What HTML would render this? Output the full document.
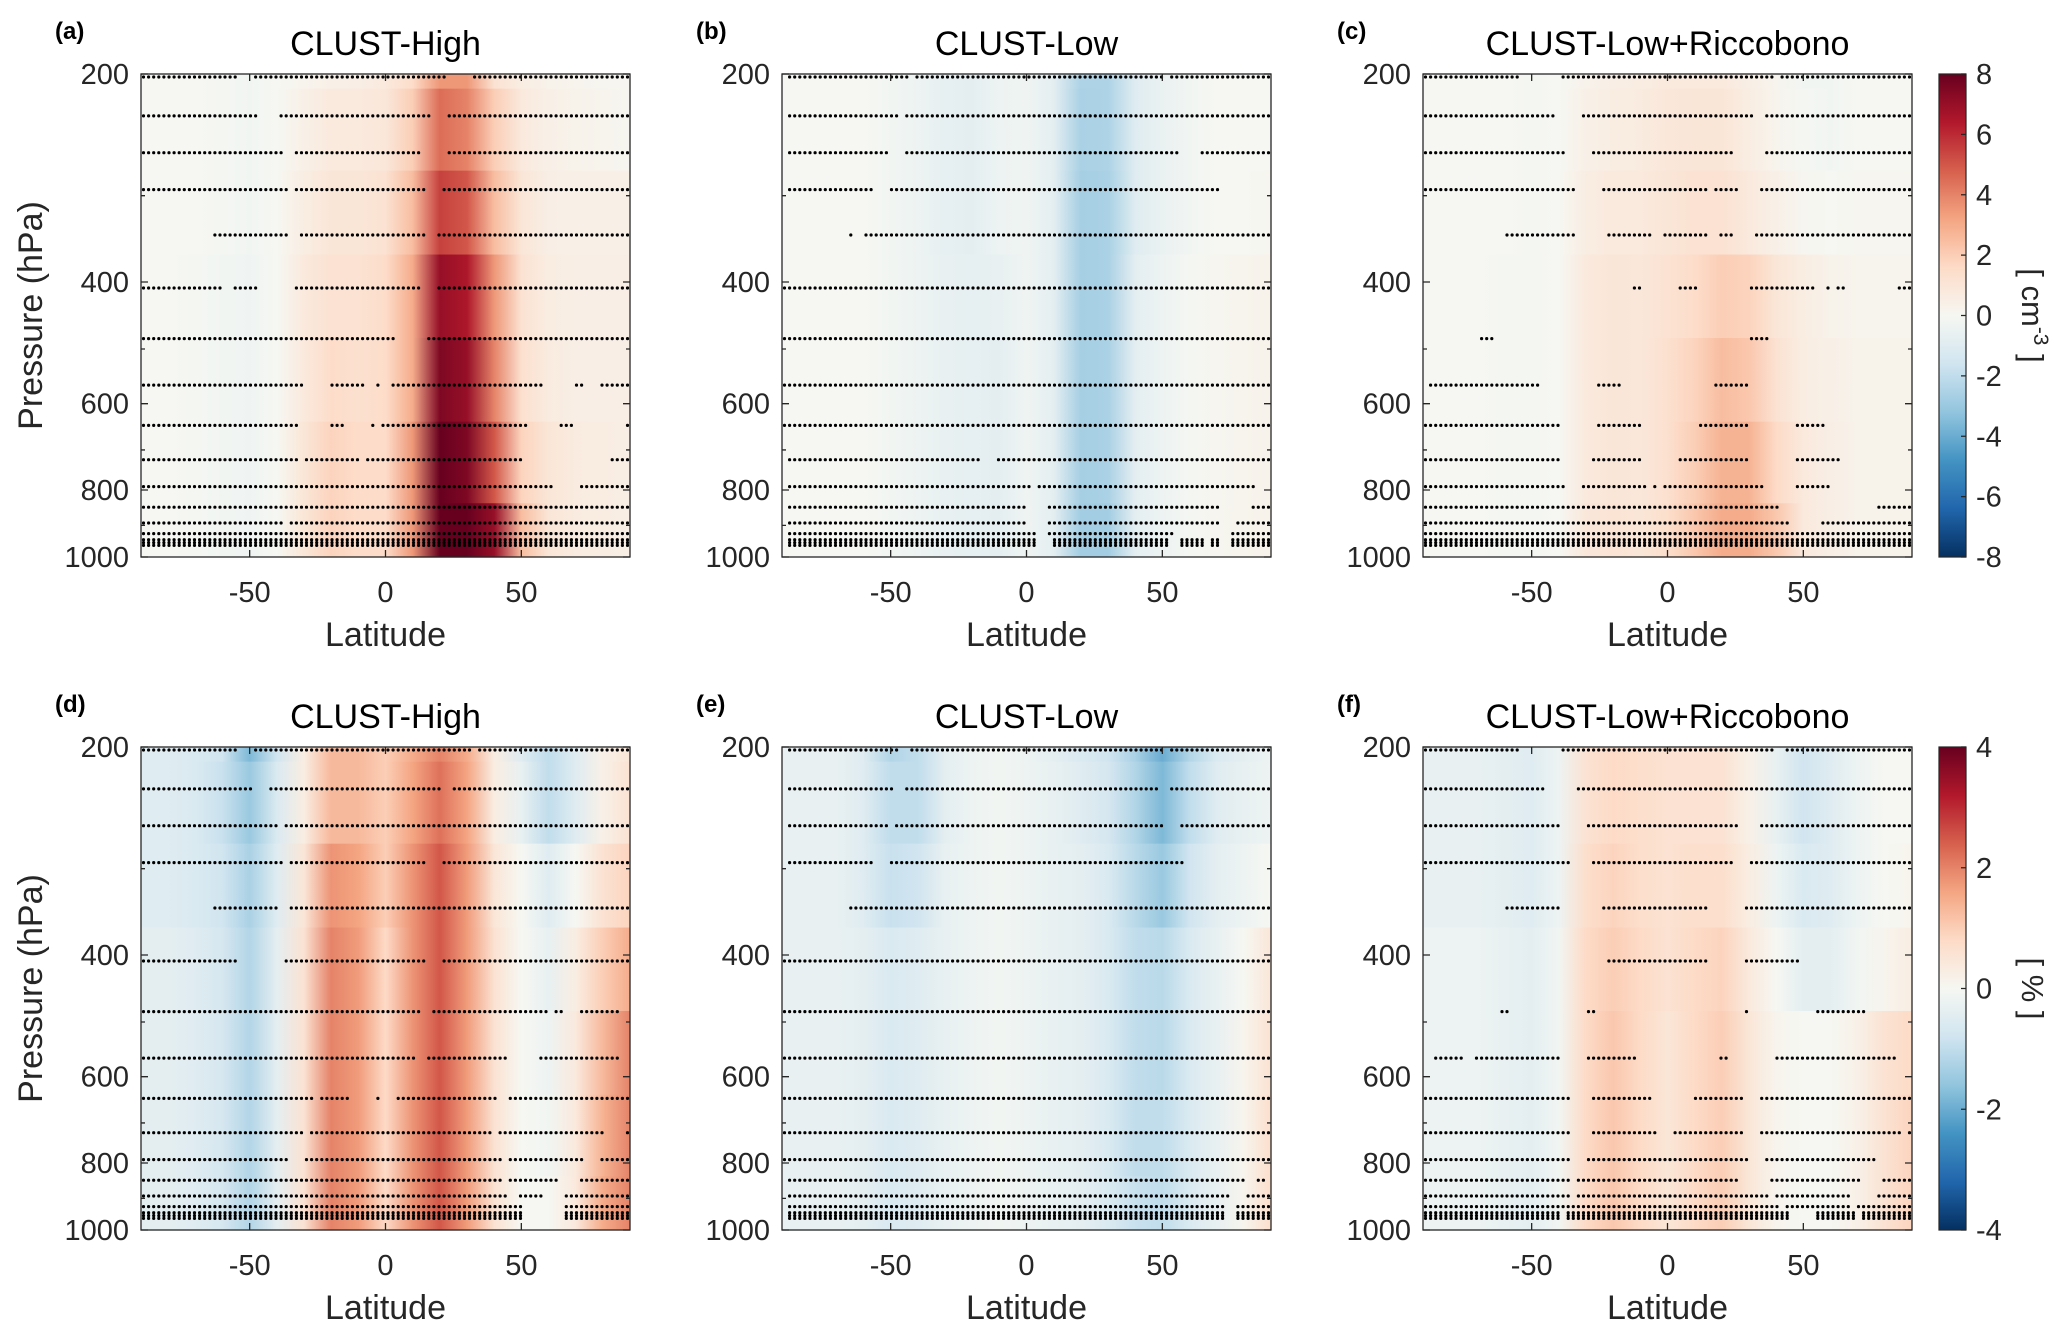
<!DOCTYPE html>
<html><head><meta charset="utf-8"><style>
html,body{margin:0;padding:0;background:#fff;}
svg{display:block;font-family:"Liberation Sans",Arial,sans-serif;}
</style></head><body>
<svg id="fig" width="2067" height="1334" viewBox="0 0 2067 1334" xmlns="http://www.w3.org/2000/svg"></svg>
<script>
// ---------- data ----------
const LATS=[-90,-80,-70,-60,-50,-40,-30,-20,-10,0,10,20,30,40,50,60,70,80,90];
const BANDS=[200,210,276,365,482,637,836,1000];
const LEVELS=[202,230,260,294,342,408,483,564,645,723,791,847,893,925,944,953,962];
const YTICKS=[200,400,600,800,1000];
const YMINOR=[300,500,700,900];
const XTICKS=[-50,0,50];
const CB_TICKS_TOP=[-8,-6,-4,-2,0,2,4,6,8];
const CB_TICKS_BOT=[-4,-2,0,2,4];
const TITLES=["CLUST-High","CLUST-Low","CLUST-Low+Riccobono","CLUST-High","CLUST-Low","CLUST-Low+Riccobono"];
const LETTERS=["(a)","(b)","(c)","(d)","(e)","(f)"];

const valA=[
[0,0,0,-0.1,-0.2,0,0.2,0.4,0.5,0.8,1.5,3.5,3.5,1.2,0.6,0.3,0.2,0.1,0.1],
[0,0,0,-0.1,-0.2,0,0.4,0.8,0.8,0.9,2,4.5,4,2,0.8,0.4,0.3,0.2,0.1],
[0,0,0,-0.1,-0.2,0,0.6,1,1,1.2,2.5,5.5,5,2.5,1,0.5,0.4,0.4,0.4],
[0,0,-0.1,-0.2,-0.3,0,0.8,1.2,1.2,1.5,3,7,6.5,3.5,1.2,0.6,0.5,0.5,0.5],
[0,0,-0.1,-0.2,-0.3,0,0.8,1.5,1.3,1.5,3,7.5,7,4,1.3,0.7,0.5,0.5,0.5],
[0,0,-0.1,-0.2,-0.3,0,1,1.8,1.5,1.5,3.5,8,7.5,5,1.8,1,0.7,0.6,0.5],
[0,0,-0.1,-0.2,-0.3,0,1,1.8,1.5,1.5,3.5,8,8,7,2.5,1,0.7,0.6,0.5]];
const valB=[
[0,0,0,0,-0.2,-0.4,-0.7,-0.8,-0.4,-0.3,-0.8,-2.5,-2.5,-1,-0.5,-0.2,0,0,0],
[0,0,0,0,-0.2,-0.4,-0.7,-0.8,-0.4,-0.3,-0.8,-2.6,-2.5,-1,-0.5,-0.2,0,0,0],
[0,0,0,0,-0.2,-0.4,-0.7,-0.8,-0.4,-0.3,-0.8,-2.7,-2.6,-1,-0.5,-0.2,0,0,0.1],
[0,0,0,0,-0.2,-0.4,-0.6,-0.7,-0.6,-0.3,-0.8,-2.7,-2.6,-0.8,-0.4,-0.1,0.1,0.2,0.3],
[0,0,0,0,-0.2,-0.4,-0.6,-0.7,-0.8,-0.3,-0.8,-2.7,-2.6,-0.8,-0.4,-0.1,0.1,0.2,0.3],
[0,0,0,0,-0.2,-0.4,-0.6,-0.7,-0.8,-0.3,-0.8,-2.7,-2.6,-0.8,-0.4,-0.1,0.1,0.2,0.3],
[0,0,0,0,-0.2,-0.4,-0.6,-0.7,-0.8,-0.3,-0.8,-2.8,-2.8,-0.8,-0.4,-0.1,0.1,0.2,0.3]];
const valC=[
[0,0,0,0,-0.1,0,0.3,0.5,0.6,0.8,0.8,0.8,0.5,0.2,-0.2,-0.2,0,0,0],
[0,0,0,0,-0.1,0,0.4,0.6,0.7,0.9,1,1,0.6,0.2,-0.1,-0.2,0,0,0],
[0,0,0,0,-0.1,0,0.6,0.8,0.8,1,1.2,1.2,0.8,0.4,0.1,0,0.1,0.1,0.1],
[0,0,0,-0.1,-0.1,0,0.8,1,0.9,1.2,1.5,2,1.8,1,0.6,0.3,0.2,0.2,0.2],
[0,0,0,-0.1,-0.1,0,0.8,1,0.9,1.3,1.8,2.5,2.2,1.2,0.6,0.4,0.3,0.3,0.3],
[0,0,0,-0.1,-0.1,0,0.8,1,0.9,1.3,2,2.8,2.8,1.6,0.8,0.5,0.3,0.3,0.3],
[0,0,0,-0.1,-0.1,0,0.9,1.1,1,1.4,2.2,3,3,2.2,0.8,0.5,0.3,0.3,0.3]];
const valD=[
[-0.5,-0.5,-0.6,-0.8,-1.8,-0.8,0.3,1.3,1.3,1,1.5,2,1.5,0.3,-0.5,-1,-0.5,0.2,0.5],
[-0.5,-0.5,-0.6,-0.9,-1.5,-0.6,0.3,1.3,1.3,1,1.6,2.2,1.6,0.3,-0.3,-1,-0.5,0.2,0.6],
[-0.5,-0.5,-0.6,-0.8,-1.3,-0.5,0.5,1.8,1.6,1,1.8,2.5,1.7,0.5,0,-0.5,0,0.6,0.9],
[-0.4,-0.4,-0.5,-0.7,-1.2,-0.4,0.6,2,1.7,0.8,1.8,2.5,1.7,0.6,0,-0.3,0.3,1,1.5],
[-0.4,-0.4,-0.5,-0.7,-1.2,-0.4,0.6,2,1.7,0.8,1.8,2.5,1.7,0.6,0,-0.2,0.4,1.3,2],
[-0.4,-0.4,-0.5,-0.7,-1.2,-0.4,0.6,2,1.7,0.8,1.8,2.5,1.7,0.6,0,-0.1,0.4,1.4,2],
[-0.4,-0.4,-0.5,-0.7,-1.2,-0.4,0.6,2,1.7,0.8,1.8,2.5,1.7,0.6,0,0,0.4,1.5,2]];
const valE=[
[-0.3,-0.3,-0.3,-0.5,-1.2,-1,-0.4,-0.2,-0.1,-0.2,-0.4,-0.6,-0.8,-1.3,-2,-1.2,-0.6,-0.4,-0.2],
[-0.3,-0.3,-0.3,-0.5,-1,-1,-0.4,-0.2,-0.1,-0.2,-0.3,-0.5,-0.7,-1.2,-1.8,-1,-0.5,-0.3,-0.2],
[-0.3,-0.3,-0.3,-0.5,-0.9,-0.8,-0.3,-0.2,-0.1,-0.2,-0.3,-0.4,-0.6,-1.1,-1.5,-0.8,-0.4,-0.2,0],
[-0.3,-0.3,-0.3,-0.4,-0.6,-0.5,-0.3,-0.2,-0.1,-0.2,-0.3,-0.4,-0.6,-1,-1.1,-0.6,-0.3,0,0.5],
[-0.3,-0.3,-0.3,-0.4,-0.6,-0.5,-0.3,-0.2,-0.1,-0.2,-0.3,-0.4,-0.6,-1,-1.1,-0.6,-0.3,0.1,0.6],
[-0.3,-0.3,-0.3,-0.4,-0.6,-0.5,-0.3,-0.2,-0.1,-0.2,-0.3,-0.4,-0.6,-1,-1,-0.6,-0.3,0.1,0.7],
[-0.3,-0.3,-0.3,-0.4,-0.6,-0.5,-0.3,-0.2,-0.1,-0.2,-0.3,-0.4,-0.6,-0.9,-1,-0.6,-0.3,0.1,0.7]];
const valF=[
[-0.3,-0.3,-0.3,-0.4,-0.5,-0.2,0.6,0.8,0.7,0.6,0.6,0.6,0.2,-0.3,-0.8,-0.5,-0.2,0,0],
[-0.3,-0.3,-0.3,-0.4,-0.5,-0.2,0.6,0.8,0.7,0.6,0.6,0.6,0.2,-0.3,-0.8,-0.5,-0.2,0,0],
[-0.3,-0.3,-0.3,-0.4,-0.5,-0.2,0.7,0.9,0.7,0.6,0.7,0.7,0.3,-0.2,-0.6,-0.5,-0.2,0,0.1],
[-0.2,-0.2,-0.2,-0.3,-0.4,-0.1,0.8,1.0,0.8,0.6,0.8,0.9,0.4,0,-0.4,-0.4,-0.1,0.1,0.3],
[-0.2,-0.2,-0.2,-0.3,-0.4,-0.1,0.8,1.1,0.8,0.5,0.8,1.0,0.5,0.1,0,0,0.2,0.6,0.8],
[-0.2,-0.2,-0.2,-0.3,-0.4,-0.1,0.8,1.1,0.8,0.5,0.8,1.0,0.5,0.1,0,0,0.2,0.6,0.9],
[-0.2,-0.2,-0.2,-0.3,-0.4,-0.1,0.8,1.1,0.8,0.5,0.8,1.0,0.5,0.1,0,0,0.2,0.6,0.9]];

// significance stippling: per level, latitude ranges with dots
const sigA=[
[[-89,-56],[-48,22],[33,90]],[[-89,-48],[-39,16],[24,90]],[[-89,-38],[-33,13],[24,90]],
[[-89,-36],[-33,15],[21,90]],[[-63,-36],[-31,15],[19,90]],[[-89,-61],[-55,-47],[-33,13],[19,90]],
[[-89,3],[15,90]],[[-89,-30],[-19,-8],[-3,-2],[3,57],[71,72],[79,90]],
[[-89,-33],[-19,-15],[-5,-4],[-1,51],[65,69],[89,90]],[[-89,-33],[-29,-11],[-7,49],[83,90]],
[[-89,61],[72,90]],[[-89,90]],[[-89,-38],[-35,90]],[[-89,-38],[-36,90]],[[-89,-38],[-36,90]],[[-89,-38],[-36,90]],[[-89,-38],[-36,90]]];
const sigB=[
[[-87,-44],[-40,50],[53,90]],[[-87,-47],[-44,51],[54,90]],[[-87,-51],[-45,55],[65,90]],
[[-87,-57],[-50,71]],[[-65,-64],[-59,90]],[[-89,90]],[[-89,90]],[[-89,90]],[[-89,90]],
[[-87,-17],[-11,90]],[[-87,1],[5,83]],[[-87,0],[9,71],[83,90]],[[-87,0],[9,70],[77,90]],
[[-87,3],[9,54],[75,90]],[[-87,3],[11,51],[57,64],[69,70],[75,90]],[[-87,3],[11,51],[57,64],[69,70],[75,90]],[[-87,3],[11,51],[57,64],[69,70],[75,90]]];
const sigC=[
[[-89,-55],[-38,39],[43,90]],[[-89,-43],[-31,31],[36,90]],[[-89,-39],[-28,23],[36,90]],
[[-89,-35],[-24,14],[18,25],[34,90]],[[-59,-35],[-22,-7],[-1,15],[20,23],[33,90]],
[[-13,-11],[5,11],[31,53],[59,60],[63,64],[85,90]],[[-68,-65],[31,37]],
[[-88,-47],[-26,-17],[18,29]],[[-89,-41],[-26,-10],[13,29],[48,58]],
[[-89,-41],[-28,-10],[4,29],[47,62]],[[-89,-39],[-31,-9],[-5,-4],[-1,34],[47,60]],
[[-89,-37],[-34,41],[77,90]],[[-89,-39],[-36,45],[57,90]],
[[-89,-41],[-38,90]],[[-89,-41],[-38,90]],[[-89,-41],[-38,90]],[[-89,-41],[-38,90]]];
const sigD=[
[[-89,-55],[-48,31],[35,90]],[[-89,-50],[-43,20],[26,90]],[[-89,-41],[-37,23],[25,90]],
[[-89,-38],[-34,15],[22,90]],[[-63,-41],[-34,90]],[[-89,-56],[-37,15],[21,90]],
[[-89,13],[18,59],[63,64],[72,85]],[[-89,10],[15,44],[57,85]],
[[-89,-28],[-23,-14],[-3,-2],[5,6],[9,40],[46,90]],[[-89,-30],[-27,38],[43,80],[89,90]],
[[-89,-36],[-29,42],[46,72],[80,90]],[[-89,42],[46,63],[72,90]],[[-89,-38],[-36,45],[49,57],[66,90]],
[[-89,-38],[-36,49],[66,90]],[[-89,-38],[-36,49],[66,90]],[[-89,-38],[-36,49],[66,90]],[[-89,-38],[-36,49],[66,90]]];
const sigE=[
[[-87,-47],[-42,49],[53,90]],[[-87,-49],[-44,48],[53,90]],[[-87,-51],[-47,49],[57,90]],
[[-87,-57],[-50,57]],[[-65,90]],[[-89,90]],[[-89,90]],[[-89,90]],[[-89,90]],[[-89,90]],
[[-89,90]],[[-87,79],[85,88]],[[-87,75],[81,90]],[[-87,73],[78,90]],[[-87,73],[78,90]],[[-87,73],[78,90]],[[-87,73],[78,90]]];
const sigF=[
[[-89,-55],[-39,39],[44,89]],[[-89,-45],[-33,34],[37,89]],[[-89,-40],[-29,26],[35,89]],
[[-89,-37],[-28,23],[30,89]],[[-59,-40],[-23,15],[29,89]],[[-21,15],[29,48]],
[[-61,-59],[-29,-27],[29,30],[55,68],[71,72]],[[-85,-76],[-71,-40],[-29,-12],[19,22],[40,84]],
[[-89,-37],[-28,-6],[11,28],[35,89]],[[-89,-37],[-28,-5],[3,28],[35,86],[89,90]],
[[-89,-37],[-29,30],[37,76]],[[-89,-37],[-33,25],[39,70],[80,89]],[[-89,-37],[-33,37],[40,66],[77,89]],
[[-89,-38],[-36,41],[44,66],[71,89]],[[-89,-40],[-37,44],[55,68],[72,89]],[[-89,-40],[-37,44],[55,68],[72,89]],[[-89,-40],[-37,44],[55,68],[72,89]]];

const VALUES=[valA,valB,valC,valD,valE,valF];
const SIGS=[sigA,sigB,sigC,sigD,sigE,sigF];
const VMAX=[8,8,8,4,4,4];

// ---------- layout ----------
const NS="http://www.w3.org/2000/svg";
const svg=document.getElementById('fig');
const COLX=[141,782,1423], ROWY=[74,747], W=489, H=483;
const CMAP=["#053061","#2166ac","#4393c3","#92c5de","#d1e5f0","#f6f7f2","#fddbc7","#f4a582","#d6604d","#b2182b","#67001f"];
function hex(c){return [parseInt(c.slice(1,3),16),parseInt(c.slice(3,5),16),parseInt(c.slice(5,7),16)];}
function cmap(t){t=Math.max(-1,Math.min(1,t));const f=(t+1)/2*(CMAP.length-1);const i=Math.min(CMAP.length-2,Math.floor(f));const u=f-i;const a=hex(CMAP[i]),b=hex(CMAP[i+1]);return "rgb("+a.map((v,k)=>Math.round(v+(b[k]-v)*u)).join(",")+")";}
function mk(tag,attrs,parent){const e=document.createElementNS(NS,tag);for(const k in attrs)e.setAttribute(k,attrs[k]);(parent||svg).appendChild(e);return e;}
const defs=mk('defs',{});
const L0=Math.log(200),L1=Math.log(1000);
function yS(y0,p){return y0+(Math.log(p)-L0)/(L1-L0)*H;}
function xS(x0,lat){return x0+(lat+90)/180*W;}
const DOT_LATS=[];for(let k=0;k<96;k++)DOT_LATS.push(-89.0625+1.875*k);

for(let pi=0;pi<6;pi++){
  const x0=COLX[pi%3], y0=ROWY[Math.floor(pi/3)];
  const g=mk('g',{});
  
  
  const vals=VALUES[pi];
  for(let b=0;b<BANDS.length-1;b++){
    const gid='gr'+pi+'_'+b;
    const lg=mk('linearGradient',{id:gid,gradientUnits:'userSpaceOnUse',x1:xS(x0,-90),y1:0,x2:xS(x0,90),y2:0},defs);
    LATS.forEach((lat,i)=>{mk('stop',{offset:((lat+90)/180).toFixed(4),'stop-color':cmap(vals[b][i]/VMAX[pi])},lg);});
    const ya=yS(y0,BANDS[b]), yb=yS(y0,BANDS[b+1]);
    const r=mk('rect',{x:x0,y:ya,width:W,height:yb-ya+0.6,fill:'url(#'+gid+')'},g);
    
    
  }
  let d='';const rr=1.6;
  SIGS[pi].forEach((ranges,li)=>{
    const y=yS(y0,LEVELS[li]);
    DOT_LATS.forEach(lat=>{
      if(ranges.some(rg=>lat>=rg[0]-0.9&&lat<=rg[1]+0.9)){
        const x=xS(x0,lat);
        d+='M'+(x-rr).toFixed(1)+' '+y.toFixed(1)+'a'+rr+' '+rr+' 0 1 0 '+(2*rr)+' 0a'+rr+' '+rr+' 0 1 0 '+(-2*rr)+' 0';
      }
    });
  });
  const st=mk('path',{d:d,fill:'#000'},g);
  
  
  const box=mk('rect',{x:x0,y:y0,width:W,height:H,fill:'none',stroke:'#262626','stroke-width':1.3},g);
  
  
  let td='';
  YTICKS.forEach(p=>{const y=yS(y0,p);td+='M'+x0+' '+y+'h7M'+(x0+W)+' '+y+'h-7';});
  YMINOR.forEach(p=>{const y=yS(y0,p);td+='M'+x0+' '+y+'h4M'+(x0+W)+' '+y+'h-4';});
  XTICKS.forEach(l=>{const x=xS(x0,l);td+='M'+x+' '+(y0+H)+'v-7M'+x+' '+y0+'v7';});
  const tk=mk('path',{d:td,stroke:'#262626','stroke-width':1.3,fill:'none'},g);
  
  
  YTICKS.forEach(p=>{
    const t=mk('text',{x:x0-12,y:yS(y0,p)+10,'text-anchor':'end','font-size':29,fill:'#262626'},g);
    t.textContent=p;
    
    
  });
  XTICKS.forEach(l=>{
    const t=mk('text',{x:xS(x0,l),y:y0+H+45,'text-anchor':'middle','font-size':29,fill:'#262626'},g);
    t.textContent=l;
    
    
  });
  const xl=mk('text',{x:x0+W/2,y:y0+H+89,'text-anchor':'middle','font-size':34,fill:'#262626'},g);
  xl.textContent='Latitude';
  
  
  const ti=mk('text',{x:x0+W/2,y:y0-19,'text-anchor':'middle','font-size':34,fill:'#000'},g);
  ti.textContent=TITLES[pi];
  
  
  const le=mk('text',{x:x0-86,y:y0-35,'font-size':24,'font-weight':'bold',fill:'#000'},g);
  le.textContent=LETTERS[pi];
  
  
  if(pi%3===0){
    const yl=mk('text',{x:0,y:0,'text-anchor':'middle','font-size':34,fill:'#262626',transform:'translate(42,'+(y0+H/2)+') rotate(-90)'},g);
    yl.textContent='Pressure (hPa)';
    
    
  }
}

const CBX=1939, CBW=27;
[0,1].forEach(ri=>{
  const y0=ROWY[ri];
  const ticks=ri===0?CB_TICKS_TOP:CB_TICKS_BOT;
  const vmax=ri===0?8:4;
  const g=mk('g',{});
  
  
  const lg=mk('linearGradient',{id:'cb'+ri,x1:0,y1:1,x2:0,y2:0},defs);
  for(let k=0;k<=40;k++){const t=-1+k/20;mk('stop',{offset:(k/40).toFixed(3),'stop-color':cmap(t)},lg);}
  const r=mk('rect',{x:CBX,y:y0,width:CBW,height:H,fill:'url(#cb'+ri+')',stroke:'#262626','stroke-width':1.2},g);
  
  
  let td='';
  ticks.forEach(v=>{
    const y=y0+H*(1-(v+vmax)/(2*vmax));
    td+='M'+(CBX+CBW)+' '+y+'h-5';
    const t=mk('text',{x:CBX+CBW+10,y:y+10,'font-size':29,fill:'#262626'},g);
    t.textContent=v;
    
    
  });
  mk('path',{d:td,stroke:'#262626','stroke-width':1.2},g);
  const ul=mk('text',{x:0,y:0,'text-anchor':'middle','font-size':31,fill:'#262626',transform:'translate(2022,'+(y0+H/2)+') rotate(90)'},g);
  if(ri===0){ul.innerHTML='[ cm<tspan dy="-12" font-size="21">-3</tspan><tspan dy="12"> ]</tspan>';}
  else{ul.textContent='[ % ]';}
  
  
});
</script>
</body></html>
